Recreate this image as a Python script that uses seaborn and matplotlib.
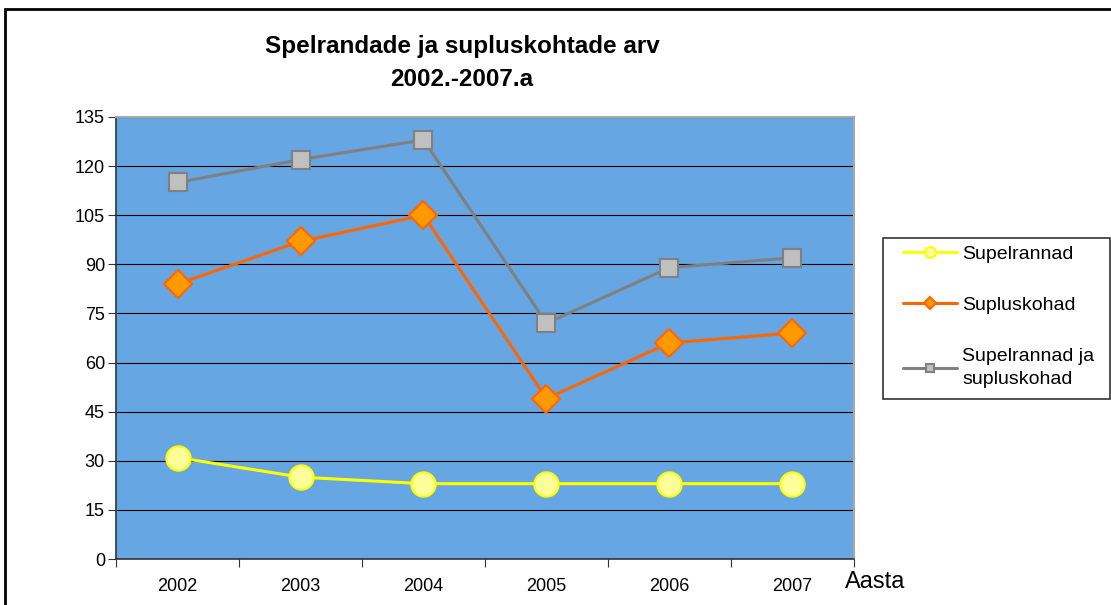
import numpy as np
import pandas as pd
import matplotlib
matplotlib.use("Agg")
import matplotlib.pyplot as plt
import seaborn as sns
from matplotlib.patches import Rectangle

years = ["2002", "2003", "2004", "2005", "2006", "2007"]
supelrannad = [31, 25, 23, 23, 23, 23]
supluskohad = [84, 97, 105, 49, 66, 69]
koik = [115, 122, 128, 72, 89, 92]

labels = ["Supelrannad", "Supluskohad", "Supelrannad ja\nsupluskohad"]

sns.set_style("white")
plt.rcParams["font.family"] = ["Liberation Sans", "DejaVu Sans"]
plt.rcParams["text.color"] = "black"
plt.rcParams["xtick.color"] = "black"
plt.rcParams["ytick.color"] = "black"

df = pd.DataFrame({
    "pos": list(range(len(years))) * 3,
    "value": supelrannad + supluskohad + koik,
    "series": [labels[0]] * 6 + [labels[1]] * 6 + [labels[2]] * 6,
})

styles = {
    labels[0]: dict(color="#ffff00", marker="o", markerfacecolor="#ffff99",
                    markeredgecolor="#ffff00", markersize=17.5, markeredgewidth=1.5),
    labels[1]: dict(color="#ff6600", marker="D", markerfacecolor="#ff9900",
                    markeredgecolor="#ff6600", markersize=14, markeredgewidth=1.5),
    labels[2]: dict(color="#808080", marker="s", markerfacecolor="#c0c0c0",
                    markeredgecolor="#808080", markersize=13, markeredgewidth=1.5),
}

fig = plt.figure(figsize=(11.11, 6.05), dpi=100)
ax = fig.add_axes([116 / 1111, 46 / 605, 738 / 1111, 442 / 605])
ax.set_facecolor("#66a6e2")

for name in labels:
    sub = df[df["series"] == name]
    sns.lineplot(data=sub, x="pos", y="value", ax=ax, linewidth=2.2,
                 label=name, **styles[name])

ax.set_xlim(-0.5, 5.5)
ax.set_ylim(0, 135)
ax.set_yticks(np.arange(0, 136, 15))
ax.yaxis.grid(True, color="black", linewidth=0.8)
ax.set_axisbelow(True)
ax.set_xticks(np.arange(-0.5, 5.6, 1))
ax.set_xticklabels([])
ax.set_xticks(range(len(years)), minor=True)
ax.set_xticklabels(years, minor=True)
ax.tick_params(axis="x", which="major", length=6, color="#333333", direction="out", bottom=True)
ax.tick_params(axis="x", which="minor", length=0, pad=14, labelsize=13)
ax.tick_params(axis="y", length=6, color="#333333", direction="out", left=True,
               labelsize=13, pad=2)
ax.set_xlabel("")
ax.set_ylabel("")
for s in ["top", "right"]:
    ax.spines[s].set_color("#a8a8a8")
    ax.spines[s].set_linewidth(1.5)
for s in ["left", "bottom"]:
    ax.spines[s].set_color("#333333")
    ax.spines[s].set_linewidth(1.2)

fig.text(875 / 1111, 1 - 582 / 605, "Aasta", fontsize=17, ha="center", va="center")
fig.text(462 / 1111, 1 - 46 / 605, "Spelrandade ja supluskohtade arv",
         fontsize=17.5, fontweight="bold", ha="center", va="center")
fig.text(462 / 1111, 1 - 79 / 605, "2002.-2007.a",
         fontsize=17.5, fontweight="bold", ha="center", va="center")

leg = ax.legend(loc="upper left", bbox_to_anchor=(903 / 1111, 1 - 245 / 605),
                bbox_transform=fig.transFigure, frameon=False,
                fontsize=14, labelspacing=1.75, handlelength=2.8, handletextpad=0.25,
                borderpad=0, borderaxespad=0, markerscale=0.45)
for t in leg.get_texts():
    t.set_linespacing(1.45)

# legend box
fig.patches.append(Rectangle((883 / 1111, 1 - 399 / 605), 227 / 1111, 161 / 605,
                             transform=fig.transFigure, fill=False,
                             edgecolor="#333333", linewidth=1.2))
# outer chart frame
fig.patches.append(Rectangle((5 / 1111, -0.1), 1.2, 1 - 9 / 605 + 0.1,
                             transform=fig.transFigure, fill=False,
                             edgecolor="black", linewidth=2))

fig.savefig("out.png", dpi=100)
